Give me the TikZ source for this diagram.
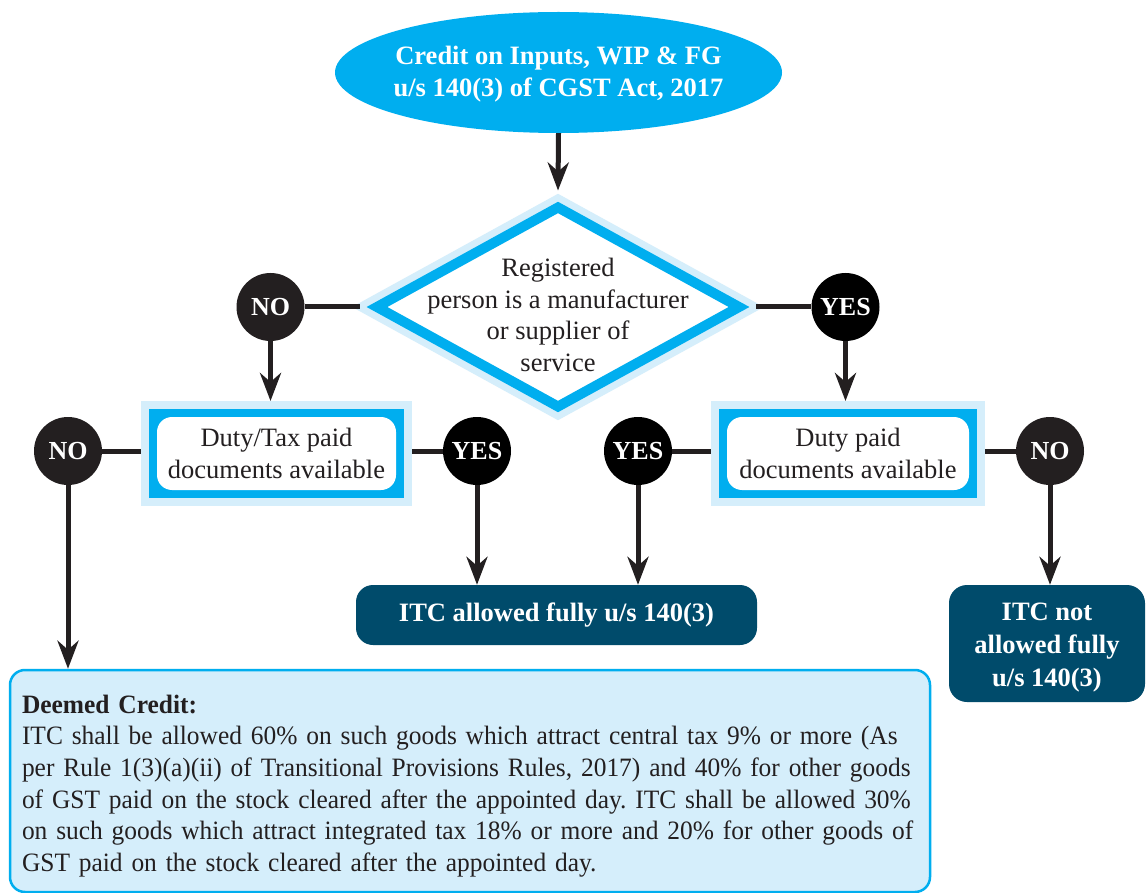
\documentclass[tikz,border=0pt]{standalone}
\usepackage{fontspec}
\setmainfont{Liberation Serif}
\newfontfamily\condserif[FakeStretch=0.96]{Liberation Serif}
\usetikzlibrary{arrows.meta,shapes.geometric,calc}
\definecolor{cyanA}{RGB}{0,174,239}
\definecolor{lightA}{RGB}{213,238,251}
\definecolor{tealA}{RGB}{0,75,107}
\definecolor{inkA}{RGB}{35,31,32}
\begin{document}
\frenchspacing
\begin{tikzpicture}[x=1pt,y=-1pt,
  txt/.style={font=\fontsize{26.5}{31.7}\selectfont, text=inkA, align=center},
  boldwhite/.style={font=\bfseries\fontsize{26.5}{33}\selectfont, text=white, align=center},
  bubble/.style={circle, fill=#1, minimum size=68pt, inner sep=0pt, text=white,
    font=\bfseries\fontsize{26}{26}\selectfont},
  dutybox/.style={rectangle, minimum width=#1, minimum height=97pt, inner sep=0pt,
    fill=cyanA, draw=lightA, line width=8pt, txt,
    path picture={\fill[white,rounded corners=15pt]
      ([xshift=12pt,yshift=12pt]path picture bounding box.south west) rectangle
      ([xshift=-12pt,yshift=-12pt]path picture bounding box.north east);}},
  resultbox/.style={rectangle, rounded corners=17pt, fill=tealA, inner sep=0pt, boldwhite},
  conn/.style={draw=inkA, line width=5pt},
  arr/.style={conn, -{Stealth[length=28pt, width=21pt, inset=9pt]}}
]
\useasboundingbox (0,0) rectangle (1146,893);
\fill[white] (0,0) rectangle (1146,893);

% top ellipse
\node[ellipse, minimum width=447pt, minimum height=121pt, inner sep=0pt, fill=cyanA]
  (ell) at (558.5,72.5) {};
\node[boldwhite, font=\bfseries\fontsize{26.5}{32}\selectfont] (elltext) at ([yshift=-2pt]ell.center)
  {Credit on Inputs, WIP \& FG\\u/s 140(3) of CGST Act, 2017};

% decision diamond
\node[diamond, minimum width=372pt, minimum height=209pt, inner sep=0pt, fill=white,
  draw=cyanA, line width=10pt, preaction={draw=lightA, line width=24pt}, outer sep=12pt]
  (dec) at (558,307) {};
\node[txt] (dtext) at ([yshift=-8pt]dec.center)
  {Registered\\person is a manufacturer\\or supplier of\\service};

% bubbles
\node[bubble=inkA] (noA) at (270.5,307) {NO};
\node[bubble=black] (yesA) at (845.5,307) {YES};
\node[bubble=inkA] (noB) at (68,451) {NO};
\node[bubble=black] (yesB) at (477,451) {YES};
\node[bubble=black] (yesC) at (638,451) {YES};
\node[bubble=inkA] (noD) at (1050,451) {NO};

% document boxes
\node[dutybox=263pt] (dutyL) at (276.5,453.5) {Duty/Tax paid\\documents available};
\node[dutybox=266pt] (dutyR) at (848,453.5) {Duty paid\\documents available};

% results
\node[resultbox, minimum width=401pt, minimum height=60pt] (itcA) at (556.5,615)
  {ITC allowed fully u/s 140(3)};
\node[resultbox, rounded corners=18pt, minimum width=196pt, minimum height=117pt] (itcN) at (1047,643.5) {};
\node[boldwhite] (itcNtext) at ([yshift=-4pt]itcN.center)
  {ITC not\\allowed fully\\u/s 140(3)};

% deemed credit box
\node[rectangle, rounded corners=15pt, fill=lightA, draw=cyanA, line width=2.5pt,
  minimum width=920pt, minimum height=222pt] (deemed) at (470,781) {};
\node[text width=896pt, inner sep=0pt, align=left, text=inkA,
  font=\condserif\fontsize{26.5}{31.7}\selectfont] (deemedtext) at ([yshift=-5pt]deemed.center)
  {{\bfseries Deemed Credit:}\\
   ITC shall be allowed 60\% on such goods which attract central tax 9\% or more (As\\
   per Rule 1(3)(a)(ii) of Transitional Provisions Rules, 2017) and 40\% for other goods\\
   of GST paid on the stock cleared after the appointed day. ITC shall be allowed 30\%\\
   on such goods which attract integrated tax 18\% or more and 20\% for other goods of\\
   GST paid on the stock cleared after the appointed day.};

% connectors
\draw[arr] (ell.south) -- (dec.north);
\draw[conn] (noA.east) -- (dec.west);
\draw[conn] (dec.east) -- (yesA.west);
\draw[arr] (noA.south) -- (noA.south |- dutyL.north);
\draw[arr] (yesA.south) -- (yesA.south |- dutyR.north);
\draw[conn] (noB.east) -- (noB.east -| dutyL.west);
\draw[conn] (yesB.west -| dutyL.east) -- (yesB.west);
\draw[conn] (yesC.east) -- (yesC.east -| dutyR.west);
\draw[conn] (noD.west -| dutyR.east) -- (noD.west);
\draw[arr] (noB.south) -- (noB.south |- deemed.north);
\draw[arr] (yesB.south) -- (yesB.south |- itcA.north);
\draw[arr] (yesC.south) -- (yesC.south |- itcA.north);
\draw[arr] (noD.south) -- (noD.south |- itcN.north);
\end{tikzpicture}
\end{document}
